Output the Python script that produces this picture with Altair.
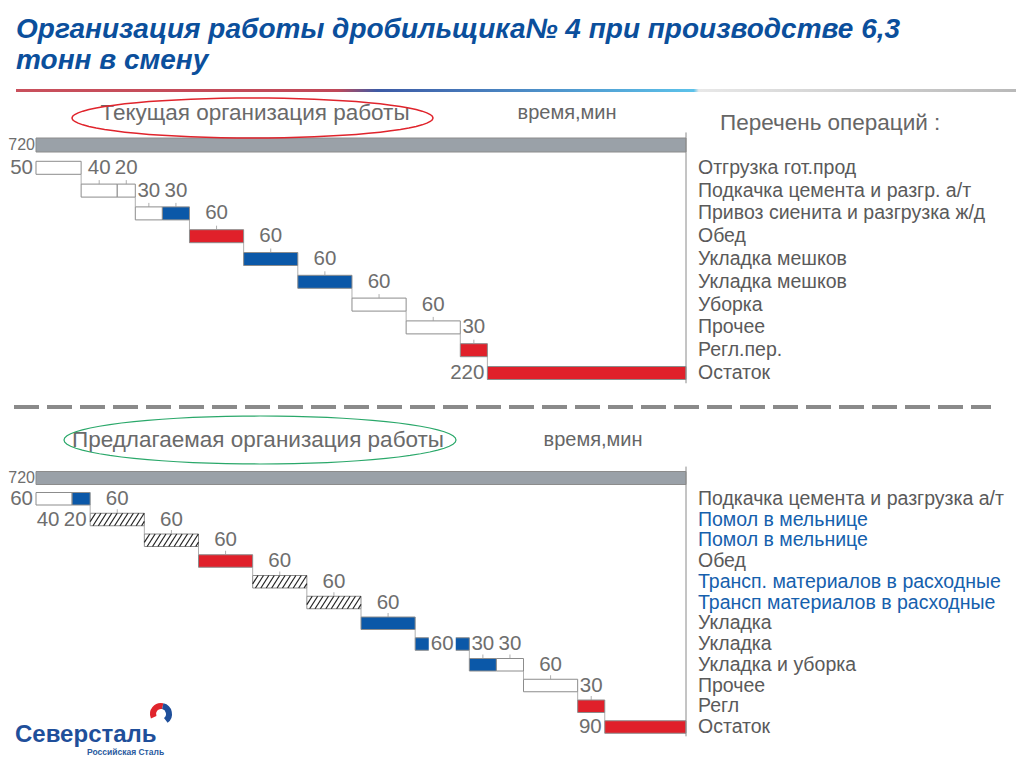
import altair as alt
import pandas as pd
import numpy as np

# ------------------------------------------------------------------ data
TOTAL_MIN = 720

TITLE_LINES = ["Организация работы дробильщика№ 4 при производстве 6,3",
               "тонн в смену"]

# current organisation (top)
top_ops = ["Отгрузка гот.прод", "Подкачка цемента и разгр. а/т",
           "Привоз сиенита и разгрузка ж/д", "Обед", "Укладка мешков",
           "Укладка мешков", "Уборка", "Прочее", "Регл.пер.", "Остаток"]
top_op_blue = [0, 0, 0, 0, 0, 0, 0, 0, 0, 0]
top_dur = [50, 40, 20, 30, 30, 60, 60, 60, 60, 60, 30, 220]
top_row = [1, 2, 2, 3, 3, 4, 5, 6, 7, 8, 9, 10]
top_kind = ["white", "white", "white", "white", "blue", "red", "blue", "blue",
            "white", "white", "red", "red"]
top_lab = ["left", "above", "above", "above", "above", "above", "above",
           "above", "above", "above", "above", "left"]
top_extra_row, top_extra_text = [], []

# proposed organisation (bottom)
bot_ops = ["Подкачка цемента и разгрузка а/т", "Помол в мельнице",
           "Помол в мельнице", "Обед", "Трансп. материалов в расходные",
           "Трансп материалов в расходные", "Укладка", "Укладка",
           "Укладка и уборка", "Прочее", "Регл", "Остаток"]
bot_op_blue = [0, 1, 1, 0, 1, 1, 0, 0, 0, 0, 0, 0]
bot_dur = [40, 20, 60, 60, 60, 60, 60, 60, 60, 30, 30, 60, 30, 90]
bot_row = [1, 1, 2, 3, 4, 5, 6, 7, 8, 9, 9, 10, 11, 12]
bot_kind = ["white", "blue", "hatch", "hatch", "red", "hatch", "hatch", "blue",
            "blue", "blue", "white", "white", "red", "red"]
bot_lab = ["below", "below", "above", "above", "above", "above", "above",
           "above", "inline", "above", "above", "above", "above", "left"]
bot_extra_row, bot_extra_text = [1], ["60"]

# ------------------------------------------------------------------ style
FONT = "Liberation Sans"
NUM_COLOR = "#6e6e6e"
NUM_SIZE = 20.5
OP_SIZE = 19.5
OP_GREY = "#5a5a5a"
OP_BLUE = "#1560ad"
KIND_DOMAIN = ["total", "white", "blue", "red", "hatch"]
KIND_RANGE = ["#9aa1a8", "#ffffff", "#0b58a8", "#e0202a", "#ffffff"]

X0_PX, X1_PX = 28, 678
MIN_PER_PX = TOTAL_MIN / (X1_PX - X0_PX)
xscale = alt.Scale(domain=[0, TOTAL_MIN], range=[X0_PX, X1_PX], nice=False, zero=False)
fill_scale = alt.Scale(domain=KIND_DOMAIN, range=KIND_RANGE)


def section(ops, op_blue, dur, rows, kinds, labs, extra_rows, extra_text,
            y_px0, y_px1, half_px, total_half_px):
    n_rows = len(ops)
    row_per_px = n_rows / (y_px1 - y_px0)
    ys = alt.Scale(domain=[0, n_rows], range=[y_px0, y_px1], nice=False, zero=False)
    h = half_px * row_per_px
    th = total_half_px * row_per_px

    dur = np.array(dur, dtype=float)
    starts = np.concatenate([[0.0], np.cumsum(dur)[:-1]])
    seg = pd.DataFrame(dict(x=starts, x2=starts + dur, row=rows, kind=kinds,
                            lab=labs, dur=dur.astype(int)))
    seg["y"] = seg.row - h
    seg["y2"] = seg.row + h
    seg["mid"] = (seg.x + seg.x2) / 2
    total = pd.DataFrame(dict(x=[0.0], x2=[float(TOTAL_MIN)], row=[0], kind=["total"],
                              y=[-th], y2=[th]))
    bars_df = pd.concat([total, seg[["x", "x2", "row", "kind", "y", "y2"]]])

    bars = alt.Chart(bars_df).mark_rect(stroke="#8c8c8c", strokeWidth=1).encode(
        x=alt.X("x:Q", scale=xscale, axis=None), x2="x2:Q",
        y=alt.Y("y:Q", scale=ys, axis=None), y2="y2:Q",
        fill=alt.Fill("kind:N", scale=fill_scale, legend=None))

    # hatching
    hatch = []
    slant, step = 8.0, 5.4
    for _, s in seg[seg.kind == "hatch"].iterrows():
        x0p, x1p = s.x / MIN_PER_PX, s.x2 / MIN_PER_PX
        xs = x0p - slant
        while xs < x1p:
            t0 = max(0.0, (x0p - xs) / slant)
            t1 = min(1.0, (x1p - xs) / slant)
            if t1 > t0:
                hatch.append(dict(x=(xs + t0 * slant) * MIN_PER_PX,
                                  x2=(xs + t1 * slant) * MIN_PER_PX,
                                  y=s.row + h - 2 * h * t0,
                                  y2=s.row + h - 2 * h * t1))
            xs += step
    layers = [bars]
    if hatch:
        layers.append(alt.Chart(pd.DataFrame(hatch)).mark_rule(
            color="#222222", strokeWidth=1.2).encode(
            x=alt.X("x:Q", scale=xscale), x2="x2:Q",
            y=alt.Y("y:Q", scale=ys), y2="y2:Q"))

    # connectors between consecutive rows
    ends = seg.groupby("row").x2.max()
    con = [dict(x=ends[r], y=r + h, y2=r + 1 - h) for r in ends.index if r + 1 in ends.index]
    layers.append(alt.Chart(pd.DataFrame(con)).mark_rule(
        color="#9a9a9a", strokeWidth=0.8).encode(
        x=alt.X("x:Q", scale=xscale), y=alt.Y("y:Q", scale=ys), y2="y2:Q"))

    # small leader ticks for labels placed above
    ab = seg[seg.lab == "above"].copy()
    ab["ty"] = ab.row - h
    ab["ty2"] = ab.row - h - 4 * row_per_px
    layers.append(alt.Chart(ab).mark_rule(color="#9a9a9a", strokeWidth=0.8).encode(
        x=alt.X("mid:Q", scale=xscale), y=alt.Y("ty:Q", scale=ys), y2="ty2:Q"))

    # inline label background
    il = seg[seg.lab == "inline"].copy()
    if len(il):
        il["bx"] = il.mid - 13.5 * MIN_PER_PX
        il["bx2"] = il.mid + 13.5 * MIN_PER_PX
        il["by"] = il.row - h - 0.05
        il["by2"] = il.row + h + 0.05
        layers.append(alt.Chart(il).mark_rect(fill="#ffffff").encode(
            x=alt.X("bx:Q", scale=xscale), x2="bx2:Q",
            y=alt.Y("by:Q", scale=ys), y2="by2:Q"))

    # total label (left of the grey bar)
    layers.append(alt.Chart(pd.DataFrame(dict(x=[0.0], row=[0], t=[str(TOTAL_MIN)])))
                  .mark_text(align="right", baseline="middle", dx=-1, font=FONT,
                             fontSize=16, color=NUM_COLOR).encode(
        x=alt.X("x:Q", scale=xscale), y=alt.Y("row:Q", scale=ys), text="t:N"))

    # left labels (right aligned before bar start)
    left = []
    for _, s in seg[seg.lab == "left"].iterrows():
        left.append(dict(x=s.x, row=s.row, t=str(s.dur)))
    for r, t in zip(extra_rows, extra_text):
        left.append(dict(x=0.0, row=r, t=t))
    layers.append(alt.Chart(pd.DataFrame(left)).mark_text(
        align="right", baseline="middle", dx=-3, font=FONT, fontSize=NUM_SIZE,
        color=NUM_COLOR).encode(
        x=alt.X("x:Q", scale=xscale), y=alt.Y("row:Q", scale=ys), text="t:N"))

    # centred labels
    cen = []
    for _, s in seg[seg.lab.isin(["above", "below", "inline"])].iterrows():
        if s.lab == "above":
            cen.append(dict(x=s.mid, row=s.row - 1, t=str(s.dur)))
        elif s.lab == "below":
            cen.append(dict(x=s.mid - 6 * MIN_PER_PX, row=s.row + 1, t=str(s.dur)))
        else:
            cen.append(dict(x=s.mid, row=s.row, t=str(s.dur)))
    layers.append(alt.Chart(pd.DataFrame(cen)).mark_text(
        align="center", baseline="middle", font=FONT, fontSize=NUM_SIZE,
        color=NUM_COLOR).encode(
        x=alt.X("x:Q", scale=xscale), y=alt.Y("row:Q", scale=ys), text="t:N"))

    # operations list
    opdf = pd.DataFrame(dict(row=list(range(1, n_rows + 1)), t=ops,
                             c=[OP_BLUE if b else OP_GREY for b in op_blue]))
    layers.append(alt.Chart(opdf).mark_text(
        align="left", baseline="middle", font=FONT, fontSize=OP_SIZE).encode(
        x=alt.value(690), y=alt.Y("row:Q", scale=ys), text="t:N",
        color=alt.Color("c:N", scale=None)))

    # right border line
    vl = pd.DataFrame(dict(x=[float(TOTAL_MIN)], y=[-0.55], y2=[n_rows + 0.45]))
    layers.append(alt.Chart(vl).mark_rule(color="#8a8a8a", strokeWidth=1).encode(
        x=alt.X("x:Q", scale=xscale), y=alt.Y("y:Q", scale=ys), y2="y2:Q"))
    return alt.layer(*layers)


top = section(top_ops, top_op_blue, top_dur, top_row, top_kind, top_lab,
              top_extra_row, top_extra_text, 137, 365, 6.5, 7)
bot = section(bot_ops, bot_op_blue, bot_dur, bot_row, bot_kind, bot_lab,
              bot_extra_row, bot_extra_text, 470, 719, 6.25, 6.5)

one = pd.DataFrame({"a": [0]})


def txt(text, x, y, size, color, align="left", baseline="middle", weight="normal",
        style="normal"):
    return alt.Chart(one).mark_text(
        text=text, align=align, baseline=baseline, font=FONT, fontSize=size,
        fontWeight=weight, fontStyle=style, color=color).encode(
        x=alt.value(x), y=alt.value(y))


def ellipse(cx, cy, w, hgt, color, sw):
    t = np.linspace(0, 2 * np.pi, 73)
    pts = ["%.4f,%.4f" % (np.cos(a), (hgt / w) * np.sin(a)) for a in t]
    path = "M" + " L".join(pts) + " Z"
    return alt.Chart(one).mark_point(
        shape=path, size=w * w, filled=False, stroke=color, strokeWidth=sw,
        opacity=1).encode(x=alt.value(cx), y=alt.value(cy))


annot = [
    txt(TITLE_LINES[0], 8, 30, 28, "#0b4f9c", baseline="alphabetic",
        weight="bold", style="italic"),
    txt(TITLE_LINES[1], 8, 61, 28, "#0b4f9c", baseline="alphabetic",
        weight="bold", style="italic"),
    alt.Chart(one).mark_rect(fill=alt.Gradient(
        gradient="linear", x1=0, x2=1, y1=0, y2=0,
        stops=[alt.GradientStop(offset=0, color="#c9505c"),
               alt.GradientStop(offset=0.32, color="#c04858"),
               alt.GradientStop(offset=0.36, color="#3d5aa5"),
               alt.GradientStop(offset=0.675, color="#5cc2ea"),
               alt.GradientStop(offset=0.68, color="#e8e8e8"),
               alt.GradientStop(offset=1, color="#b8b8b8")])).encode(
        x=alt.value(8), x2=alt.value(1012), y=alt.value(81), y2=alt.value(84)),
    txt("Текущая организация работы", 247, 105, 22.5, "#6a6a6a", align="center"),
    ellipse(244.5, 110, 361, 40, "#e0242c", 1.5),
    txt("время,мин", 559, 105, 20, "#666666", align="center"),
    txt("Перечень операций :", 712, 115, 22.5, "#666666"),
    alt.Chart(one).mark_rule(strokeDash=[25, 8], strokeWidth=4, color="#8a8a8a").encode(
        x=alt.value(6), x2=alt.value(983), y=alt.value(399)),
    txt("Предлагаемая организация работы", 250, 432, 22.5, "#6a6a6a", align="center"),
    ellipse(252, 432, 392, 48, "#2aa86a", 1.2),
    txt("время,мин", 585, 432, 20, "#666666", align="center"),
    txt("Северсталь", 7, 734, 24, "#1f4f9a", baseline="alphabetic", weight="bold"),
    txt("Российская Сталь", 79, 747, 8.5, "#2a5aa0", baseline="alphabetic", weight="bold"),
    alt.Chart(one).mark_arc(theta=4.3, theta2=6.5, radius=11, radius2=5,
                            color="#e0242c", x=153, y=706).encode(opacity=alt.value(1)),
    alt.Chart(one).mark_arc(theta=0.22, theta2=2.5, radius=11, radius2=5,
                            color="#1f4f9a", x=153, y=706).encode(opacity=alt.value(1)),
]

chart = alt.layer(top, bot, *annot).resolve_scale(y="independent").properties(
    width=1008, height=752, padding=0, autosize=alt.AutoSizeParams(type="none")
).configure_view(stroke=None)

chart.save("out.html", embed_options={"renderer": "svg", "actions": False})
